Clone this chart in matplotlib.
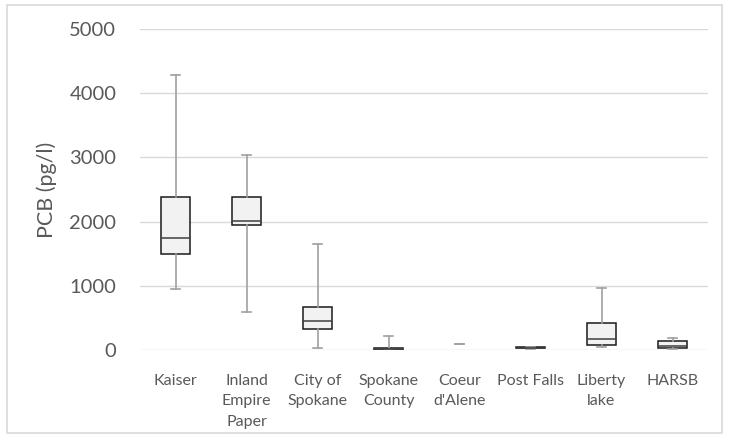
import matplotlib.pyplot as plt
from matplotlib.patches import Rectangle

plt.rcParams['font.family'] = ['Lato', 'DejaVu Sans']

categories = ["Kaiser", "Inland\nEmpire\nPaper", "City of\nSpokane", "Spokane\nCounty",
              "Coeur\nd'Alene", "Post Falls", "Liberty\nlake", "HARSB"]
whislo = [955, 592, 31, 2, 100, 20, 47, 16]
q1 = [1490, 1947, 322, 5, 100, 25, 78, 26]
med = [1745, 2014, 456, 15, 100, 32, 167, 67]
q3 = [2383, 2383, 675, 26, 100, 40, 415, 140]
whishi = [4279, 3042, 1650, 213, 100, 47, 965, 182]

stats = []
for i in range(len(categories)):
    stats.append(dict(whislo=whislo[i], q1=q1[i], med=med[i], q3=q3[i],
                      whishi=whishi[i], fliers=[]))

fig = plt.figure(figsize=(7.29, 4.40), dpi=100)
ax = fig.add_axes([140/729, 90/440, 568/729, 321/440])

bp = ax.bxp(stats, positions=range(len(categories)), widths=0.42, patch_artist=True,
            showfliers=False, capwidths=0.14,
            boxprops=dict(facecolor='#f2f2f2', edgecolor='#1a1a1a', linewidth=1.1),
            medianprops=dict(color='#404040', linewidth=1.1),
            whiskerprops=dict(color='#a0a0a0', linewidth=1.2),
            capprops=dict(color='#a0a0a0', linewidth=1.2))

# a single value: only the cap is visible
for i in range(len(categories)):
    if q1[i] == q3[i]:
        bp['boxes'][i].set_visible(False)
        bp['medians'][i].set_visible(False)

ax.set_xlim(-0.5, len(categories) - 0.5)
ax.set_ylim(0, 5000)
ax.set_yticks([0, 1000, 2000, 3000, 4000, 5000])
ax.set_xticks(range(len(categories)))
ax.set_xticklabels(categories, fontsize=11.5, color='#595959', linespacing=1.6, va='top')
ax.tick_params(axis='y', labelsize=14.5, colors='#595959', length=0, pad=17)
ax.tick_params(axis='x', length=0, pad=17)
ax.yaxis.grid(True, color='#d9d9d9', linewidth=1)
ax.set_axisbelow(True)
for s in ax.spines.values():
    s.set_visible(False)
ax.set_ylabel('PCB (pg/l)', fontsize=15.5, color='#595959', labelpad=9)

fig.patches.append(Rectangle((7/729, 7/440), 715/729, 428/440, transform=fig.transFigure,
                             fill=False, edgecolor='#d9d9d9', linewidth=1.2))

fig.savefig('out.png', dpi=100)
